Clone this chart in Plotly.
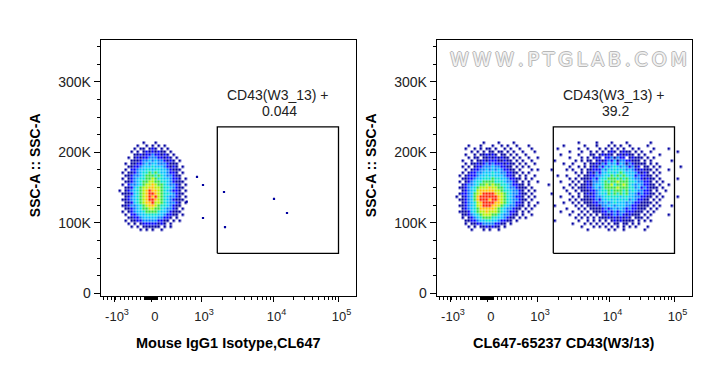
import numpy as np
import plotly.graph_objects as go

W, H = 713, 367

# ------------------------------------------------------------------ data
PANEL_TITLES = ["Mouse IgG1 Isotype,CL647", "CL647-65237 CD43(W3/13)"]
Y_TITLE = "SSC-A :: SSC-A"
GATE_NAME = "CD43(W3_13) +"
GATE_PCT = ["0.044", "39.2"]
WATERMARK = "WWW.PTGLAB.COM"

# x axis is a biexponential display scale (channel units 0..255)
X_RANGE = [0, 255.3]
X_TICK_POS = [13.3, 51.2, 100.3, 172.8, 237.8]
X_TICK_TEXT = ["-10<sup>3</sup>", "0", "10<sup>3</sup>", "10<sup>4</sup>", "10<sup>5</sup>"]
X_NEG_MINOR = [2.6, 7.0, 11.0, 15.0, 19.3, 23.6, 27.6, 31.6, 36.0, 40.0]
X_POS_MINOR = [56.6, 61.0, 65.0, 69.3, 73.3, 77.6, 81.6, 86.0, 90.0, 94.3]
X_ZERO_BAND = [43.6, 56.4]
Y_RANGE = [-3830, 360000]
Y_TICK_VALS = [0, 100000, 200000, 300000]
Y_TICK_TEXT = ["0", "100K", "200K", "300K"]
Y_MINOR_STEP = 25000

# gate (display channel units, SSC-A)
GATE_X = [116.6, 237.8]
GATE_Y = [56700, 236000]

# density grids: each char = density level (0 = no events), rows top -> bottom
GRID_Y_TOP = 213200
GRID_DY = 4255
GRID_DX = 3.0

ISO_X0 = 19.3
ISO_GRID = [
    "00000000100010000000000",
    "00000010010101010000000",
    "00000101101210101000000",
    "00001010121212110100000",
    "00000112122322121010000",
    "00010121223332212101000",
    "00001112334343321210100",
    "00101122343443332111000",
    "00011223444544432121010",
    "00102234455455443211100",
    "01011234556565443221010",
    "00112334566656543321100",
    "01012345566765544322101",
    "00112345667766554321110",
    "01023345677876654332101",
    "00112456778877655432110",
    "10123456789887654322101",
    "01112456789987655432110",
    "00123456789897654332101",
    "01123456789987654321110",
    "00112456788977654332101",
    "01123345678876554321100",
    "00112345667766543321010",
    "01012344566665443211100",
    "00102234455554432211010",
    "00011223444443322101000",
    "00101122333332211010100",
    "00010101222221210100000",
    "00001010111111010100000",
    "00000001010100100000000",
]
ISO_STRAY_X = [123.3, 173.3, 186.3, 124.3, 96.3, 102.3, 102.3, 86.0]
ISO_STRAY_Y = [143700, 133800, 113900, 94000, 165000, 153600, 106800, 130000]

CD43_A_X0 = 20.3
CD43_A_GRID = [
    "00000000010000100001000000000",
    "00001000100010010100100010000",
    "00010010101101001010010001000",
    "00000101010110110101001000100",
    "00010010112121011010100100000",
    "00001011011212121101010010010",
    "00100101121222112110101001000",
    "00010112123232221211010100100",
    "00101012233343322110101010000",
    "00010122334343432211010001010",
    "00101223344454433221101010000",
    "01012223445454443221010100100",
    "00112234455565544322110101000",
    "01012345566665554332101010010",
    "00123345667676655432211010000",
    "01123456777877665433211101000",
    "00123457888887765543321010100",
    "01223467899998776543321101000",
    "10123468999999876543221010100",
    "01123468999899876543321101000",
    "00123457899998876543221010010",
    "01123457899988765433211010100",
    "00123456888887654332110101000",
    "01112456778777654322101010000",
    "00112345677766543321101001000",
    "00101234566655443211010100000",
    "00011223445544322110100000000",
    "00010112233332211010000000000",
    "00001010112121101000000000000",
    "00000100010100100000000000000",
]

CD43_B_X0 = 109.3
CD43_B_GRID = [
    "00000000000100000100001000010000000100000000000",
    "00000010000001000100010101001000001000000000000",
    "00001000000100100010101010100101000010000100000",
    "00000000100010010101012101211010100100000000100",
    "00000100000100011012121012121101010000100000000",
    "00000000100010101210223132201211101010000000000",
    "00010000001010110121232413322111010100000010000",
    "00000010010001011213243424313211110101000000000",
    "00000000100101012132434543432312011010100000010",
    "00100001010010112224354545434321211101000100000",
    "00000000001010121324455456544432121010100000000",
    "00001001000101122334546565654423221101000000000",
    "00000000101011123245566656565433212110100000100",
    "00000100010101213345656676665543322101010000000",
    "01000000101011213445667566765434322110100100000",
    "00000010010111223435666676665534232111010000000",
    "00000001001011122345565666564543322101001000000",
    "00100000100101212345465656564432322110100000000",
    "00000100010101122334555554554433221101010000100",
    "00000000101011112324454545453432211010100000000",
    "00000010010101112233434544434322111101000000000",
    "00010000001010111213344344433221111010100010000",
    "00000001000101011112323434323221110101000000000",
    "00000100010010101112232323322211101010000000000",
    "00000000100101010101212323212111010100000100000",
    "00000000001010101011121212121011101000000000000",
    "00010000000100101010101212111101010100000000000",
    "00000000010001010101010110110101000000000000000",
    "00000000000010001010101010101010001000000000000",
    "00000000000000100000010100100000010000000000000",
]

LEVEL_COLORS = ["#0000a0", "#0000ff", "#0078ff", "#00c0ff", "#00e0d0",
                "#30e040", "#b0f000", "#ffc000", "#ff2000"]

# ------------------------------------------------------------------ layout geometry (px)
FRAME_TOP, FRAME_BOTTOM = 39.5, 296.0
PANEL_LEFT = [100.7, 436.7]
PANEL_WIDTH = 255.3


def grid_to_z(rows):
    n = max(len(r) for r in rows)
    rows = [r.ljust(n, "0") for r in rows]
    z = [[(int(c) if c != "0" else np.nan) for c in r] for r in rows[::-1]]
    return z


colorscale = []
nlev = len(LEVEL_COLORS)
for k, c in enumerate(LEVEL_COLORS):
    colorscale.append([k / nlev, c])
    colorscale.append([(k + 1) / nlev, c])

fig = go.Figure()

y0_bottom = GRID_Y_TOP - GRID_DY * (len(ISO_GRID) - 1)


def add_grid(rows, x0, xa, ya):
    fig.add_trace(go.Heatmap(
        z=grid_to_z(rows), x0=x0, dx=GRID_DX, y0=y0_bottom, dy=GRID_DY,
        colorscale=colorscale, zmin=0.5, zmax=nlev + 0.5, showscale=False,
        xgap=0.5, ygap=0.5,
        hoverinfo="skip", xaxis=xa, yaxis=ya))


add_grid(ISO_GRID, ISO_X0, "x", "y")
fig.add_trace(go.Scatter(x=ISO_STRAY_X, y=ISO_STRAY_Y, mode="markers",
                         marker=dict(symbol="square", size=2.2, color="#0000a0", line_width=0),
                         hoverinfo="skip", xaxis="x", yaxis="y"))
add_grid(CD43_A_GRID, CD43_A_X0, "x2", "y2")
add_grid(CD43_B_GRID, CD43_B_X0, "x2", "y2")

for xa, ya in [("x", "y"), ("x2", "y2")]:
    fig.add_trace(go.Scatter(
        x=[GATE_X[0], GATE_X[1], GATE_X[1], GATE_X[0], GATE_X[0]],
        y=[GATE_Y[0], GATE_Y[0], GATE_Y[1], GATE_Y[1], GATE_Y[0]],
        mode="lines", line=dict(color="black", width=1.3),
        hoverinfo="skip", xaxis=xa, yaxis=ya))

# minor ticks
x_minor = list(X_NEG_MINOR) + list(X_POS_MINOR)
x_minor += list(np.arange(X_ZERO_BAND[0], X_ZERO_BAND[1] + 0.01, 0.8))
for a, b in [(X_TICK_POS[2], X_TICK_POS[3]), (X_TICK_POS[3], X_TICK_POS[4])]:
    x_minor += [a + (b - a) * np.log10(k) for k in range(2, 10)]
y_minor = [v for v in np.arange(0, Y_RANGE[1], Y_MINOR_STEP) if v not in Y_TICK_VALS]

FONT = "Liberation Sans, Arial, sans-serif"


def xaxis(i):
    l = PANEL_LEFT[i]
    return dict(
        domain=[l / W, (l + PANEL_WIDTH) / W], range=X_RANGE, automargin=False,
        showline=True, mirror=True, linecolor="black", linewidth=1,
        showgrid=False, zeroline=False,
        ticks="outside", ticklen=5, tickcolor="black", tickwidth=1,
        tickmode="array", tickvals=X_TICK_POS, ticktext=X_TICK_TEXT,
        tickfont=dict(family=FONT, size=13, color="#222"),
        ticklabelshift=3, ticklabelstandoff=3,
        minor=dict(tickmode="array", tickvals=x_minor, ticks="outside",
                   ticklen=3, tickcolor="black", tickwidth=1, showgrid=False),
        anchor="y" if i == 0 else "y2", fixedrange=True)


def yaxis(i):
    return dict(
        domain=[1 - FRAME_BOTTOM / H, 1 - FRAME_TOP / H], range=Y_RANGE, automargin=False,
        showline=True, mirror=True, linecolor="black", linewidth=1,
        showgrid=False, zeroline=False,
        ticks="outside", ticklen=6, tickcolor="black", tickwidth=1,
        tickmode="array", tickvals=Y_TICK_VALS, ticktext=Y_TICK_TEXT,
        tickfont=dict(family=FONT, size=14, color="#222"),
        minor=dict(tickmode="array", tickvals=y_minor, ticks="outside",
                   ticklen=3, tickcolor="black", tickwidth=1, showgrid=False),
        anchor="x" if i == 0 else "x2", fixedrange=True)


annotations = []
for i in range(2):
    l = PANEL_LEFT[i]
    xr = "x" if i == 0 else "x2"
    yr = "y" if i == 0 else "y2"
    cx = (GATE_X[0] + GATE_X[1]) / 2
    annotations.append(dict(xref=xr, yref=yr, x=cx, y=281300, text=GATE_NAME,
                            showarrow=False, font=dict(family=FONT, size=14, color="#222"),
                            xanchor="center", yanchor="middle"))
    annotations.append(dict(xref=xr, yref=yr, x=cx + 2, y=258600, text=GATE_PCT[i],
                            showarrow=False, font=dict(family=FONT, size=14, color="#222"),
                            xanchor="center", yanchor="middle"))
    annotations.append(dict(xref="paper", yref="paper", x=(l + PANEL_WIDTH / 2) / W,
                            y=1 - 343 / H, text="<b>%s</b>" % PANEL_TITLES[i],
                            showarrow=False, font=dict(family=FONT, size=14.5, color="black"),
                            xanchor="center", yanchor="middle"))
    annotations.append(dict(xref="paper", yref="paper", x=(l - 65.5) / W,
                            y=1 - 165 / H, text="<b>%s</b>" % Y_TITLE, textangle=-90,
                            showarrow=False, font=dict(family=FONT, size=14, color="black"),
                            xanchor="center", yanchor="middle"))

annotations.append(dict(xref="paper", yref="paper", x=568.5 / W, y=1 - 59 / H,
                        text="\u2009".join(WATERMARK), showarrow=False,
                        font=dict(family="DejaVu Sans", size=19, color="#f2f2f2",
                                  shadow="1px 0 0 #b8b8b8, -1px 0 0 #b8b8b8, 0 1px 0 #b8b8b8, 0 -1px 0 #b8b8b8"),
                        xanchor="center", yanchor="middle"))

fig.update_layout(
    template="none",
    width=W, height=H, margin=dict(l=0, r=0, t=0, b=0, autoexpand=False),
    paper_bgcolor="white", plot_bgcolor="white", showlegend=False,
    xaxis=xaxis(0), xaxis2=xaxis(1), yaxis=yaxis(0), yaxis2=yaxis(1),
    annotations=annotations,
)

fig.write_html("out.html", config={"displayModeBar": False, "staticPlot": True},
               post_script="document.body.style.margin='0';document.body.style.overflow='hidden';")
